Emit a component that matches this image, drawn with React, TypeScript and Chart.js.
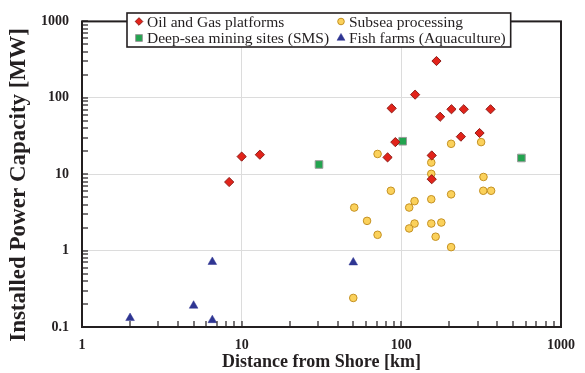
import React, { useEffect, useRef } from 'react';
import { Chart, registerables } from 'chart.js';
import { drawPoint } from 'chart.js/helpers';
Chart.register(...registerables);

// ---- data ----
const oilGasX = [8.35, 10, 13, 166, 122, 87, 206, 246, 362, 175, 309, 236, 91.7, 82, 155, 155];
const oilGasY = [7.9, 17, 18, 303, 110, 72.8, 70.8, 70.8, 70.8, 56.5, 34.6, 31, 26.3, 16.6, 17.6, 8.6];

const subseaX = [71, 205, 316, 154, 154, 327, 86, 326, 365, 205, 50.7, 121, 112, 154, 61, 121, 112, 154, 178, 71, 164, 205, 50];
const subseaY = [18.4, 25, 26.3, 14.2, 10.1, 9.2, 6.07, 6.07, 6.07, 5.45, 3.66, 4.44, 3.66, 4.7, 2.45, 2.26, 1.95, 2.26, 2.33, 1.61, 1.52, 1.11, 0.24];

const miningX = [30.5, 102, 565];
const miningY = [13.4, 27, 16.3];

const fishX = [2, 5, 6.55, 6.55, 50];
const fishY = [0.131, 0.19, 0.123, 0.71, 0.7];

const seriesNames = [
  'Oil and Gas platforms',
  'Subsea processing',
  'Deep-sea mining sites (SMS)',
  'Fish farms (Aquaculture)',
];

const xTickLabels = ['1', '10', '100', '1000'];
const yTickLabels = ['0.1', '1', '10', '100', '1000'];

const xTitle = 'Distance from Shore [km]';
const yTitle = 'Installed Power Capacity [MW]';

const SERIF = '"Liberation Serif", "Times New Roman", serif';
const INK = '#231f20';

const toPoints = (xs: number[], ys: number[]) => xs.map((x, i) => ({ x, y: ys[i] }));

const isMajor = (v: number) => {
  const l = Math.log10(v);
  return Math.abs(l - Math.round(l)) < 1e-6;
};
const labelFor = (v: number, labels: string[]) => {
  if (!isMajor(v)) return '';
  const found = labels.find((l) => Math.abs(parseFloat(l) - v) < 1e-9 * Math.max(1, v));
  return found ?? '';
};
// 1..9 x 10^k positions inside a log scale's range
const logMinorValues = (min: number, max: number) => {
  const out: number[] = [];
  const e0 = Math.floor(Math.log10(min) + 1e-9);
  const e1 = Math.ceil(Math.log10(max) - 1e-9);
  for (let e = e0; e <= e1; e++) {
    for (let m = 1; m <= 9; m++) {
      const v = m * Math.pow(10, e);
      if (v >= min * (1 - 1e-9) && v <= max * (1 + 1e-9)) out.push(v);
    }
  }
  return out;
};

const styles = [
  { pointStyle: 'rectRot', radius: 4.6, bg: '#e2231a', border: '#8e1b17', bw: 1, lr: 3.8 },
  { pointStyle: 'circle', radius: 3.8, bg: '#fbd15b', border: '#c49122', bw: 1, lr: 3.3 },
  { pointStyle: 'rect', radius: 5.4, bg: '#22a44f', border: '#9a9a9a', bw: 1, lr: 4.8 },
  { pointStyle: 'triangle', radius: 5, bg: '#2e3592', border: '#2e3592', bw: 0.5, lr: 4.6 },
];

const framePlugin = {
  id: 'frameAndLegend',
  afterDraw(chart: any) {
    const { ctx, chartArea: a, scales } = chart;
    const sx = scales.x;
    const sy = scales.y;
    ctx.save();
    ctx.setLineDash([]);
    // inward ticks on left and bottom axes
    ctx.fillStyle = INK;
    logMinorValues(sx.min, sx.max).forEach((v) => {
      const px = Math.round(sx.getPixelForValue(v));
      ctx.fillRect(px - 0.6, a.bottom - 6, 1.2, 6);
    });
    logMinorValues(sy.min, sy.max).forEach((v) => {
      const py = Math.round(sy.getPixelForValue(v));
      ctx.fillRect(a.left, py - 0.6, 6, 1.2);
    });
    // frame
    ctx.strokeStyle = INK;
    ctx.lineWidth = 2;
    ctx.strokeRect(a.left, a.top, a.right - a.left, a.bottom - a.top);

    // y-axis title
    ctx.save();
    ctx.translate(19, 185);
    ctx.rotate(-Math.PI / 2);
    ctx.font = `bold 23px ${SERIF}`;
    ctx.fillStyle = INK;
    ctx.textAlign = 'center';
    ctx.textBaseline = 'middle';
    ctx.fillText(yTitle, 0, 0);
    ctx.restore();

    // legend box
    const cols = [139, 341];
    const rows = [21.5, 38];
    ctx.font = `15.5px ${SERIF}`;
    const lastW = Math.max(ctx.measureText(seriesNames[1]).width, ctx.measureText(seriesNames[3]).width);
    const lx = 127, ly = 13;
    const lw = cols[1] + 8 + lastW + 5 - lx;
    const lh = 34;
    ctx.fillStyle = '#ffffff';
    ctx.fillRect(lx, ly, lw, lh);
    ctx.lineWidth = 1.6;
    ctx.strokeStyle = INK;
    ctx.strokeRect(lx, ly, lw, lh);
    ctx.textBaseline = 'middle';
    ctx.textAlign = 'left';
    seriesNames.forEach((name, i) => {
      const cx = cols[i % 2];
      const cy = rows[Math.floor(i / 2)];
      const s = styles[i];
      ctx.fillStyle = s.bg;
      ctx.strokeStyle = s.border;
      ctx.lineWidth = s.bw;
      drawPoint(ctx, { pointStyle: s.pointStyle as any, radius: s.lr, rotation: 0, borderWidth: s.bw }, cx, cy);
      ctx.fillStyle = INK;
      ctx.fillText(name, cx + 8, cy + 1);
    });
    ctx.restore();
  },
};

export default function App() {
  const ref = useRef<HTMLCanvasElement | null>(null);
  useEffect(() => {
    if (!ref.current) return;
    const seriesX = [oilGasX, subseaX, miningX, fishX];
    const seriesY = [oilGasY, subseaY, miningY, fishY];
    const datasets = seriesNames.map((name, i) => ({
      label: name,
      data: toPoints(seriesX[i], seriesY[i]),
      pointStyle: styles[i].pointStyle as any,
      pointRadius: styles[i].radius,
      pointBackgroundColor: styles[i].bg,
      pointBorderColor: styles[i].border,
      pointBorderWidth: styles[i].bw,
      showLine: false,
    }));
    const tickFont = { family: SERIF, size: 14, weight: 'bold' as const };
    const gridColor = (c: any) => (c.tick && isMajor(c.tick.value) ? '#dcdcdc' : 'rgba(0,0,0,0)');
    const chart = new Chart(ref.current, {
      type: 'scatter',
      data: { datasets },
      options: {
        animation: false,
        responsive: true,
        maintainAspectRatio: false,
        layout: { padding: { top: 13, right: 16, bottom: 0, left: 0 } },
        plugins: { legend: { display: false }, tooltip: { enabled: false } },
        scales: {
          x: {
            type: 'logarithmic',
            min: 1,
            max: 1000,
            afterFit: (s: any) => { s.height = 46; },
            grid: { drawTicks: false, color: gridColor, lineWidth: 1 },
            border: { display: false },
            ticks: {
              autoSkip: false,
              maxRotation: 0,
              padding: 10,
              color: INK,
              font: tickFont,
              callback: (v: any) => labelFor(Number(v), xTickLabels),
            },
            title: {
              display: true,
              text: xTitle,
              color: INK,
              font: { family: SERIF, size: 18, weight: 'bold' },
              padding: { top: 0, bottom: 0 },
            },
          },
          y: {
            type: 'logarithmic',
            min: 0.1,
            max: 1000,
            afterFit: (s: any) => { s.width = 82; },
            grid: { drawTicks: false, color: gridColor, lineWidth: 1 },
            border: { display: false },
            ticks: {
              autoSkip: false,
              padding: 13,
              color: INK,
              font: tickFont,
              callback: (v: any) => labelFor(Number(v), yTickLabels),
            },
            title: { display: false, text: yTitle },
          },
        },
      },
      plugins: [framePlugin],
    });
    return () => chart.destroy();
  }, []);
  return (
    <div style={{ position: 'absolute', left: 0, top: 0, width: 585, height: 373 }}>
      <canvas ref={ref} />
    </div>
  );
}
